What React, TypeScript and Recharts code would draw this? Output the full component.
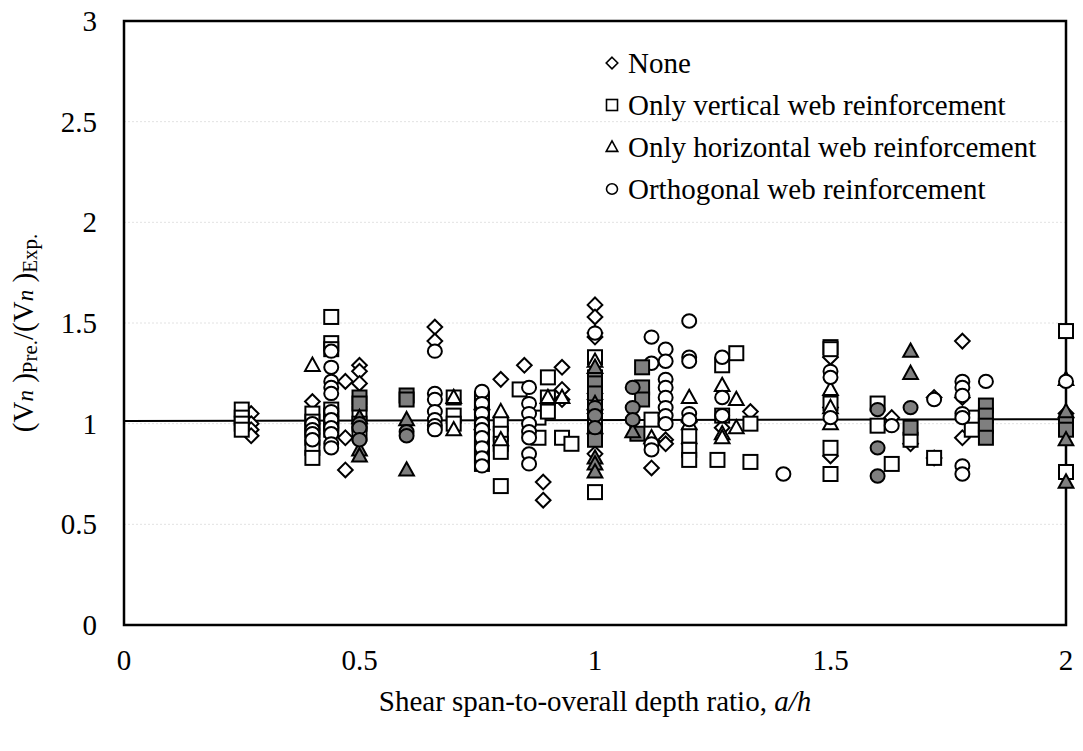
import { ScatterChart, Scatter, XAxis, YAxis, CartesianGrid, ReferenceArea, ReferenceLine, Legend } from "recharts";

const FONT = '"Liberation Serif", "Times New Roman", serif';

// ticks
const xTicks = [0, 0.5, 1, 1.5, 2];
const yTicks = [0, 0.5, 1, 1.5, 2, 2.5, 3];

// mean line
const meanLine = [
  { x: 0, y: 1.013 },
  { x: 2, y: 1.022 },
];

// [a/h, ratio]
const noneOpen = [
  [0.27, 1.05], [0.27, 1.0], [0.27, 0.97], [0.27, 0.94],
  [0.4, 1.11], [0.47, 1.21], [0.47, 0.93], [0.47, 0.77],
  [0.5, 1.29], [0.5, 1.26], [0.5, 1.2],
  [0.66, 1.48], [0.66, 1.41],
  [0.8, 1.22], [0.85, 1.29], [0.89, 0.71], [0.89, 0.62],
  [0.93, 1.28], [0.93, 1.17], [0.93, 1.12],
  [1.0, 1.59], [1.0, 1.53], [1.0, 1.45], [1.0, 1.43], [1.0, 1.15], [1.0, 1.12], [1.0, 1.05], [1.0, 0.85],
  [1.12, 0.78], [1.15, 0.92], [1.15, 0.9], [1.2, 1.01], [1.2, 0.9],
  [1.27, 0.98], [1.33, 1.06],
  [1.5, 1.33], [1.5, 1.08], [1.5, 0.84],
  [1.63, 1.03], [1.67, 0.9], [1.72, 1.13], [1.72, 0.83],
  [1.78, 1.41], [1.78, 1.13], [1.78, 0.93],
  [2.0, 1.05],
];

const vertOpen = [
  [0.25, 1.07], [0.25, 1.03], [0.25, 1.0], [0.25, 0.97],
  [0.4, 1.05], [0.4, 1.01], [0.4, 0.97], [0.4, 0.93], [0.4, 0.88], [0.4, 0.83],
  [0.44, 1.53], [0.44, 1.4], [0.44, 1.37], [0.44, 1.07], [0.44, 1.04], [0.44, 1.0], [0.44, 0.97],
  [0.5, 1.05], [0.5, 1.0], [0.5, 0.95],
  [0.7, 1.13], [0.7, 1.04], [0.7, 1.0],
  [0.76, 1.12], [0.76, 1.08], [0.76, 1.02], [0.76, 0.97], [0.76, 0.92], [0.76, 0.88], [0.76, 0.84], [0.76, 0.8],
  [0.8, 1.0], [0.8, 0.95], [0.8, 0.9], [0.8, 0.86], [0.8, 0.69],
  [0.84, 1.17], [0.88, 1.03], [0.88, 0.93],
  [0.9, 1.23], [0.9, 1.13], [0.9, 1.06], [0.93, 0.93], [0.95, 0.9],
  [1.0, 1.33], [1.0, 1.13], [1.0, 1.1], [1.0, 1.05], [1.0, 1.0], [1.0, 0.66],
  [1.12, 1.02], [1.2, 0.94], [1.2, 0.87], [1.2, 0.82],
  [1.27, 1.29], [1.27, 1.04], [1.26, 0.82], [1.3, 1.35], [1.33, 1.0], [1.33, 0.81],
  [1.5, 1.38], [1.5, 1.37], [1.5, 1.1], [1.5, 0.88], [1.5, 0.75],
  [1.6, 1.1], [1.6, 0.99], [1.63, 0.8], [1.67, 0.92], [1.72, 0.83],
  [1.8, 1.03], [1.8, 0.97],
  [2.0, 1.46], [2.0, 0.76],
];

const vertGray = [
  [0.5, 1.13], [0.5, 1.1],
  [0.6, 1.14], [0.6, 1.12],
  [1.0, 1.23], [1.0, 1.2], [1.0, 1.15], [1.0, 0.95], [1.0, 0.92],
  [1.1, 1.28], [1.1, 1.18], [1.1, 1.12], [1.09, 0.95],
  [1.67, 0.98],
  [1.83, 1.09], [1.83, 1.04], [1.83, 0.99], [1.83, 0.93],
  [2.0, 1.0], [2.0, 0.97],
];

const horizOpen = [
  [0.4, 1.29],
  [0.7, 1.13], [0.7, 0.97],
  [0.76, 1.1], [0.76, 1.0], [0.8, 1.06], [0.8, 0.92],
  [0.9, 1.13], [0.93, 1.13],
  [1.0, 1.31],
  [1.12, 0.93],
  [1.2, 1.13], [1.2, 1.04], [1.2, 1.0],
  [1.27, 1.19], [1.27, 0.95], [1.27, 0.93],
  [1.3, 1.12], [1.3, 0.98],
  [1.5, 1.17], [1.5, 1.08], [1.5, 1.0],
  [2.0, 1.22],
];

const horizGray = [
  [0.5, 1.03], [0.5, 0.87], [0.5, 0.84],
  [0.6, 1.02], [0.6, 0.77],
  [1.0, 1.28], [1.0, 1.1], [1.0, 0.98], [1.0, 0.83], [1.0, 0.8], [1.0, 0.76],
  [1.08, 0.96],
  [1.67, 1.36], [1.67, 1.25],
  [2.0, 1.06], [2.0, 0.92], [2.0, 0.71],
];

const orthoOpen = [
  [0.4, 1.0], [0.4, 0.97], [0.4, 0.95], [0.4, 0.92],
  [0.44, 1.36], [0.44, 1.28], [0.44, 1.21], [0.44, 1.18], [0.44, 1.15], [0.44, 1.06], [0.44, 1.02], [0.44, 0.98], [0.44, 0.95], [0.44, 0.9], [0.44, 0.88],
  [0.66, 1.36], [0.66, 1.15], [0.66, 1.12], [0.66, 1.06], [0.66, 1.02], [0.66, 0.99], [0.66, 0.97],
  [0.76, 1.16], [0.76, 1.1], [0.76, 1.05], [0.76, 1.0], [0.76, 0.97], [0.76, 0.93], [0.76, 0.88], [0.76, 0.83], [0.76, 0.79],
  [0.86, 1.18], [0.86, 1.1], [0.86, 1.05], [0.86, 1.0], [0.86, 0.96], [0.86, 0.93], [0.86, 0.85], [0.86, 0.8],
  [1.0, 1.45],
  [1.12, 1.43], [1.12, 1.3], [1.12, 0.9], [1.12, 0.87],
  [1.15, 1.37], [1.15, 1.31], [1.15, 1.22], [1.15, 1.18], [1.15, 1.13], [1.15, 1.08], [1.15, 1.04], [1.15, 1.0],
  [1.2, 1.51], [1.2, 1.33], [1.2, 1.31], [1.2, 1.05], [1.2, 1.02],
  [1.27, 1.33], [1.27, 1.13], [1.27, 1.04],
  [1.4, 0.75],
  [1.5, 1.26], [1.5, 1.23], [1.5, 1.03],
  [1.63, 0.99], [1.72, 1.12],
  [1.78, 1.21], [1.78, 1.18], [1.78, 1.14], [1.78, 1.05], [1.78, 1.03], [1.78, 0.79], [1.78, 0.75],
  [1.83, 1.21], [2.0, 1.21],
];

const orthoGray = [
  [0.5, 1.0], [0.5, 0.98], [0.5, 0.92],
  [0.6, 0.96], [0.6, 0.94],
  [1.0, 1.08], [1.0, 1.04], [1.0, 0.98],
  [1.08, 1.18], [1.08, 1.08], [1.08, 1.02],
  [1.6, 1.07], [1.6, 0.88], [1.6, 0.74],
  [1.67, 1.08],
];

const legendItems = [
  { kind: "diamond", label: "None" },
  { kind: "square", label: "Only vertical web reinforcement" },
  { kind: "triangle", label: "Only horizontal web reinforcement" },
  { kind: "circle", label: "Orthogonal web reinforcement" },
];

const toPts = (arr: number[][]) => arr.map(([x, y]) => ({ x, y }));

const GRAY = "#7f7f7f";

function Marker({ kind, cx, cy, fill, s, sw }: { kind: string; cx: number; cy: number; fill: string; s: number; sw: number }) {
  if (kind === "diamond") {
    const d = s * 1.05;
    return <polygon points={`${cx},${cy - d} ${cx + d},${cy} ${cx},${cy + d} ${cx - d},${cy}`} fill={fill} stroke="#000" strokeWidth={sw} />;
  }
  if (kind === "square") {
    return <rect x={cx - s} y={cy - s} width={s * 2} height={s * 2} fill={fill} stroke="#000" strokeWidth={sw} />;
  }
  if (kind === "triangle") {
    return <polygon points={`${cx},${cy - s * 1.1} ${cx + s * 1.05},${cy + s * 0.8} ${cx - s * 1.05},${cy + s * 0.8}`} fill={fill} stroke="#000" strokeWidth={sw} />;
  }
  return <ellipse cx={cx} cy={cy} rx={s} ry={s * 0.95} fill={fill} stroke="#000" strokeWidth={sw} />;
}

const shape = (kind: string, fill: string) => (props: any) =>
  <Marker kind={kind} cx={props.cx} cy={props.cy} fill={fill} s={7} sw={2} />;

const XTick = (props: any) => (
  <text x={props.x} y={props.y + 45} textAnchor="middle" fontFamily={FONT} fontSize={29} fill="#000">
    {props.payload.value}
  </text>
);

const YTick = (props: any) => (
  <text x={props.x - 27} y={props.y + 10} textAnchor="end" fontFamily={FONT} fontSize={29} fill="#000">
    {props.payload.value}
  </text>
);

const XTitle = (props: any) => {
  const vb = props.viewBox;
  return (
    <text x={vb.x + vb.width / 2} y={vb.y + 86} textAnchor="middle" fontFamily={FONT} fontSize={29} fill="#000">
      Shear span-to-overall depth ratio, <tspan fontStyle="italic">a/h</tspan>
    </text>
  );
};

const YTitle = () => (
  <text transform="translate(25,325) rotate(-90)" textAnchor="middle" fontFamily={FONT} fontSize={29} fill="#000">
    <tspan>(V</tspan>
    <tspan fontStyle="italic" fontSize={23}>n</tspan>
    <tspan> )</tspan>
    <tspan fontSize={21} dy={4}>Pre.</tspan>
    <tspan dy={-4}>/(V</tspan>
    <tspan fontStyle="italic" fontSize={23}>n</tspan>
    <tspan> )</tspan>
    <tspan fontSize={21} dy={4}>Exp.</tspan>
  </text>
);

const LegendBox = () => (
  <div style={{ fontFamily: FONT, fontSize: 29, color: "#000" }}>
    {legendItems.map((it) => (
      <div key={it.label} style={{ display: "flex", alignItems: "center", height: 42, whiteSpace: "nowrap" }}>
        <svg width={22} height={22}>
          <Marker kind={it.kind} cx={11} cy={11} fill="#fff" s={5.5} sw={1.6} />
        </svg>
        <span style={{ marginLeft: 5 }}>{it.label}</span>
      </div>
    ))}
  </div>
);

export default function App() {
  return (
    <ScatterChart width={1067} height={735} margin={{ top: 13, right: 9, left: 0, bottom: 18 }}>
      <CartesianGrid horizontal vertical={false} stroke="#e2e2e2" strokeDasharray="2 2" />
      <XAxis
        type="number"
        dataKey="x"
        domain={[0, 2]}
        ticks={xTicks}
        axisLine={false}
        tickLine={false}
        tickSize={0}
        tickMargin={0}
        height={100}
        tick={XTick}
        label={{ content: XTitle }}
      />
      <YAxis
        type="number"
        dataKey="y"
        domain={[0, 3]}
        ticks={yTicks}
        axisLine={false}
        tickLine={false}
        tickSize={0}
        tickMargin={0}
        width={116}
        tick={YTick}
        label={{ content: YTitle }}
      />
      <Legend
        layout="vertical"
        align="center"
        verticalAlign="middle"
        content={LegendBox}
        wrapperStyle={{ left: 593, top: 34, width: "auto", height: "auto" }}
      />
      <ReferenceLine segment={meanLine} stroke="#000" strokeWidth={2} ifOverflow="visible" />
      <Scatter name="None" data={toPts(noneOpen)} shape={shape("diamond", "#fff")} isAnimationActive={false} />
      <Scatter name="Vertical" data={toPts(vertOpen)} shape={shape("square", "#fff")} isAnimationActive={false} />
      <Scatter name="Horizontal" data={toPts(horizOpen)} shape={shape("triangle", "#fff")} isAnimationActive={false} />
      <Scatter name="Orthogonal" data={toPts(orthoOpen)} shape={shape("circle", "#fff")} isAnimationActive={false} />
      <Scatter name="Vertical (grey)" data={toPts(vertGray)} shape={shape("square", GRAY)} isAnimationActive={false} />
      <Scatter name="Horizontal (grey)" data={toPts(horizGray)} shape={shape("triangle", GRAY)} isAnimationActive={false} />
      <Scatter name="Orthogonal (grey)" data={toPts(orthoGray)} shape={shape("circle", GRAY)} isAnimationActive={false} />
      <ReferenceArea x1={0} x2={2} y1={0} y2={3} fill="none" stroke="#000" strokeWidth={2.5} ifOverflow="visible" />
    </ScatterChart>
  );
}
